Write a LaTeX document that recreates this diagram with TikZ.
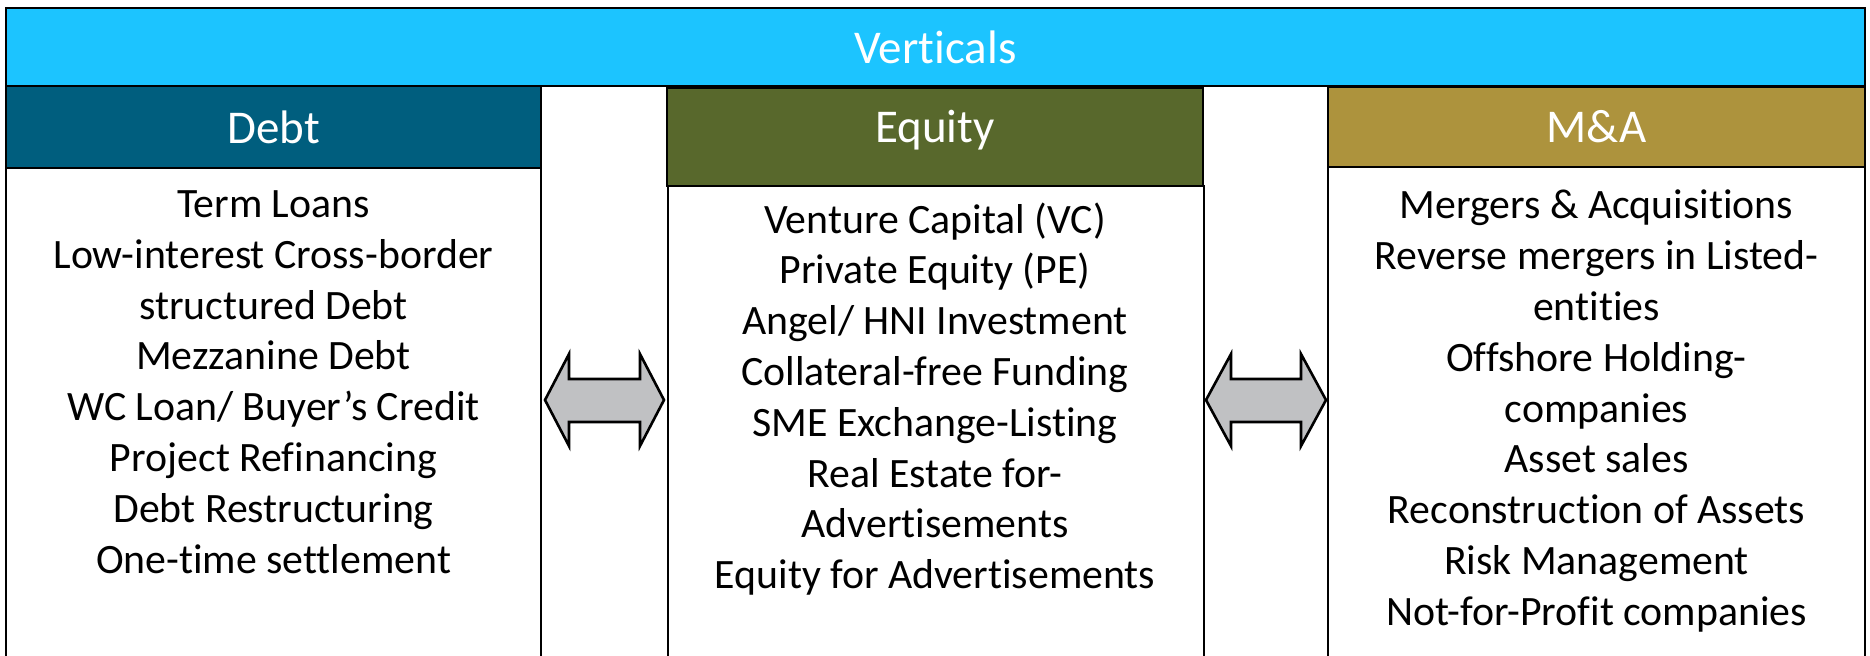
\documentclass[tikz,border=0pt]{standalone}
\usepackage{fontspec}
\setmainfont[Ligatures={NoCommon}]{Carlito}
\definecolor{banner}{RGB}{28,196,255}
\definecolor{debtc}{RGB}{0,94,126}
\definecolor{equityc}{RGB}{88,104,44}
\definecolor{mac}{RGB}{173,147,61}
\definecolor{arrowc}{RGB}{192,193,195}
\tikzset{
  hdrbox/.style={draw=black, line width=1.2pt},
  bodyline/.style={draw=black, line width=0.9pt},
  hdrtext/.style={text=white, font=\fontsize{23.5}{28}\selectfont, inner sep=0pt},
  bodytext/.style={text=black, font=\fontsize{20.9}{25.4}\selectfont, align=center, inner sep=0pt},
  dblarrow/.style={fill=arrowc, draw=black, line width=1.3pt, line join=miter}
}
\begin{document}
\begin{tikzpicture}[x=0.5pt,y=-0.5pt]
\useasboundingbox (0,0) rectangle (1870,655);
\fill[white] (0,0) rectangle (1870,655);
% bodies
\draw[bodyline] (6,656) -- (6,168) -- (541,168) -- (541,656);
\draw[bodyline] (668,656) -- (668,186) -- (1204,186) -- (1204,656);
\draw[bodyline] (1328,656) -- (1328,167) -- (1865,167) -- (1865,656);
% headers
\draw[hdrbox, fill=banner] (6,8) rectangle (1865,86);
\draw[hdrbox, fill=debtc] (6,86) rectangle (541,168);
\draw[hdrbox, fill=equityc] (667,88) rectangle (1203,186);
\draw[hdrbox, fill=mac] (1328,87) rectangle (1865,167);
\node[hdrtext] (vert) at (935.5,47) {Verticals};
\node[hdrtext] (debt) at (273.5,127) {Debt};
\node[hdrtext] (equity) at (935,130) {Equity};
\node[hdrtext] (ma) at (1596.5,127) {M\&A};
% body texts
\node[bodytext] (debtlist) at (273.5,382) {Term Loans\\Low-interest Cross-border\\structured Debt\\Mezzanine Debt\\WC Loan/ Buyer’s Credit\\Project Refinancing\\Debt Restructuring\\One-time settlement};
\node[bodytext] (equitylist) at (935,399) {Venture Capital (VC)\\Private Equity (PE)\\Angel/ HNI Investment\\Collateral-free Funding\\SME Exchange-Listing\\Real Estate for-\\Advertisements\\Equity for Advertisements};
\node[bodytext] (malist) at (1596.5,411) {Mergers \& Acquisitions\\Reverse mergers in Listed-\\entities\\Offshore Holding-\\companies\\Asset sales\\Reconstruction of Assets\\Risk Management\\Not-for-Profit companies};
% double arrows
\draw[dblarrow] (545,400) -- (569,354) -- (569,379) -- (640,379) -- (640,354) -- (664,400) -- (640,446) -- (640,422) -- (569,422) -- (569,446) -- cycle;
\draw[dblarrow] (1206,400) -- (1231,354) -- (1231,379) -- (1301,379) -- (1301,354) -- (1326,400) -- (1301,446) -- (1301,422) -- (1231,422) -- (1231,446) -- cycle;
\end{tikzpicture}
\end{document}
